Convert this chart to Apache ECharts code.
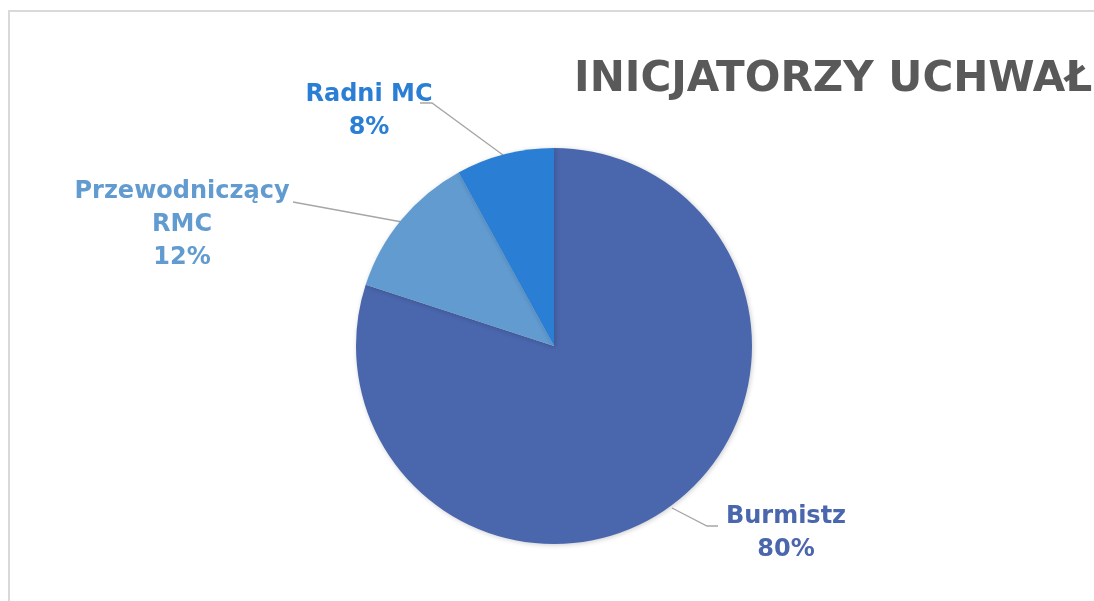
<!DOCTYPE html>
<html>
<head>
<meta charset="utf-8">
<script src="https://cdn.jsdelivr.net/npm/echarts@6/dist/echarts.min.js"></script>
<style>
html,body{margin:0;padding:0;background:#fff;}
#chart{width:1094px;height:601px;}
</style>
</head>
<body>
<div id="chart"></div>
<script>
const categories = ['Burmistz', 'Przewodniczący\nRMC', 'Radni MC'];
const values = [80, 12, 8];
const colors = ['#4a66ad', '#619bd0', '#2a7fd5'];
const titleText = 'INICJATORZY UCHWAŁ';

const FONT = 'DejaVu Sans';
// label layouts (positions only)
const labelPos = [
  {x: 786, y: 533, line: [[672, 508], [707, 526], [718, 526]]},
  {x: 182, y: 225, line: [[402, 222], [293, 202]]},
  {x: 369, y: 111, line: [[503, 155], [432, 103], [420, 103]]}
];

const chart = echarts.init(document.getElementById('chart'), null, {renderer: 'canvas'});
chart.setOption({
  animation: false,
  backgroundColor: '#ffffff',
  graphic: [{
    type: 'rect', silent: true, z: -1,
    shape: {x: 9, y: 11, width: 1200, height: 700},
    style: {fill: '#ffffff', stroke: '#d9d9d9', lineWidth: 2}
  }],
  title: {
    text: titleText,
    left: 569, top: 54,
    textStyle: {fontFamily: FONT, fontWeight: 'bold', fontSize: 42, color: '#595959'}
  },
  series: [{
    type: 'pie',
    center: [554, 346],
    radius: 198,
    startAngle: 90,
    clockwise: true,
    data: categories.map((c, i) => ({
      name: c, value: values[i],
      itemStyle: {color: colors[i]},
      label: {color: colors[i]}
    })),
    itemStyle: {shadowBlur: 5, shadowColor: 'rgba(0,0,0,0.2)', shadowOffsetX: 1, shadowOffsetY: 1},
    label: {
      show: true,
      formatter: p => p.name + '\n' + Math.round(p.percent) + '%',
      fontFamily: FONT, fontWeight: 'bold', fontSize: 24, lineHeight: 33,
      align: 'center'
    },
    labelLine: {show: true, lineStyle: {color: '#a6a6a6', width: 1.3}},
    labelLayout: function (params) {
      const lp = labelPos[params.dataIndex];
      return {x: lp.x, y: lp.y, align: 'center', verticalAlign: 'middle', labelLinePoints: lp.line};
    }
  }]
});
</script>
</body>
</html>
